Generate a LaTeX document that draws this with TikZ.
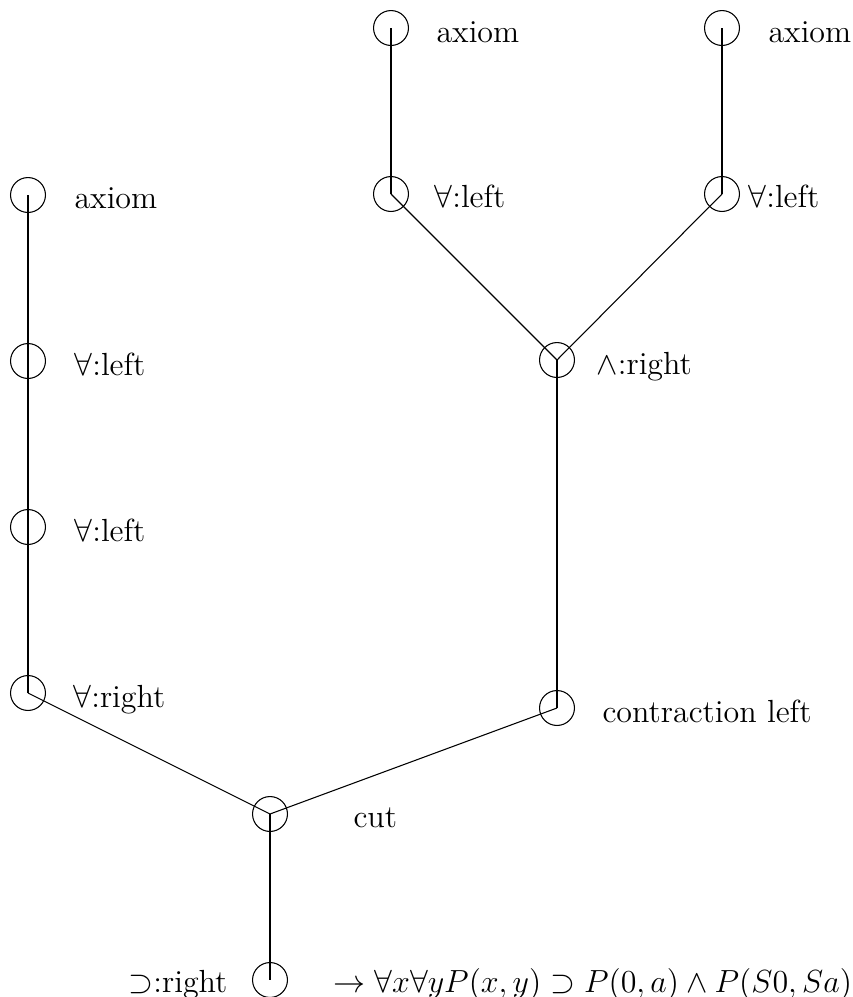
\documentclass[tikz,border=0pt]{standalone}
\usepackage{amsmath}
\begin{document}
\begin{tikzpicture}[x=0.375pt,y=-0.375pt,
  proofpt/.style={draw,circle,minimum size=13.1pt,inner sep=0pt,line width=0.4pt},
  rulelbl/.style={anchor=base west,inner sep=0pt,font=\large},
  edge/.style={line width=0.4pt}]
\useasboundingbox (0,0) rectangle (853,997);

% proof points
\node[proofpt] (a1) at (391,28) {};
\node[proofpt] (a2) at (722,28) {};
\node[proofpt] (l1) at (391,194) {};
\node[proofpt] (l2) at (722,194) {};
\node[proofpt] (and) at (557,360) {};
\node[proofpt] (contr) at (557,708) {};
\node[proofpt] (la) at (28,195) {};
\node[proofpt] (lf1) at (28,361) {};
\node[proofpt] (lf2) at (28,527) {};
\node[proofpt] (lr) at (28,693) {};
\node[proofpt] (cut) at (270,814) {};
\node[proofpt] (root) at (270,980) {};

% inference edges, centre to centre
\draw[edge] (a1.center) -- (l1.center);
\draw[edge] (a2.center) -- (l2.center);
\draw[edge] (l1.center) -- (and.center);
\draw[edge] (l2.center) -- (and.center);
\draw[edge] (and.center) -- (contr.center);
\draw[edge] (la.center) -- (lf1.center);
\draw[edge] (lf1.center) -- (lf2.center);
\draw[edge] (lf2.center) -- (lr.center);
\draw[edge] (lr.center) -- (cut.center);
\draw[edge] (contr.center) -- (cut.center);
\draw[edge] (cut.center) -- (root.center);

% rule names
\node[rulelbl] (a1t) at (436,42) {axiom};
\node[rulelbl] (a2t) at (768,42) {axiom};
\node[rulelbl] (l1t) at (434,207) {$\forall$:left};
\node[rulelbl] (l2t) at (748,207) {$\forall$:left};
\node[rulelbl] (andt) at (596,374) {$\wedge$:right};
\node[rulelbl] (contrt) at (602,722) {contraction left};
\node[rulelbl] (lat) at (74,208) {axiom};
\node[rulelbl] (lf1t) at (74,375) {$\forall$:left};
\node[rulelbl] (lf2t) at (74,541) {$\forall$:left};
\node[rulelbl] (lrt) at (73,707) {$\forall$:right};
\node[rulelbl] (cutt) at (353,827) {cut};
\node[rulelbl] (roott) at (128,992) {$\supset$:right};
\node[rulelbl] (seq) at (333,992) {$\rightarrow \forall x\forall y P(x,y) \supset P(0,a)\wedge P(S0,Sa)$};
\end{tikzpicture}
\end{document}
